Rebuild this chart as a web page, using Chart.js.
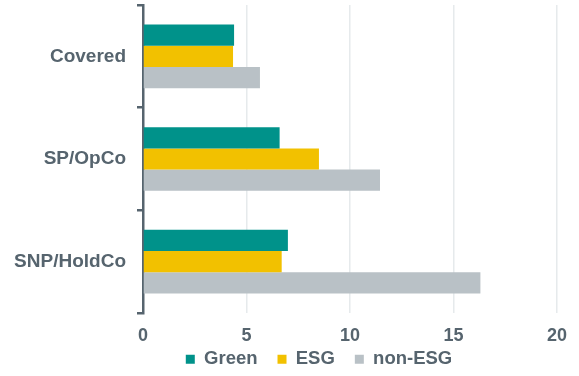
<!DOCTYPE html>
<html>
<head>
<meta charset="utf-8">
<script src="https://cdn.jsdelivr.net/npm/chart.js@4/dist/chart.umd.min.js"></script>
<style>
  html, body { margin: 0; padding: 0; background: #ffffff; }
  #wrap { width: 579px; height: 376px; position: relative; }
</style>
</head>
<body>
<div id="wrap"><canvas id="chart" width="579" height="376"></canvas></div>
<script>
// Issuer categories and values per bond type
const categories = ['Covered', 'SP/OpCo', 'SNP/HoldCo'];
const greenValues = [4.4, 6.6, 7.0];
const esgValues = [4.35, 8.5, 6.7];
const nonEsgValues = [5.65, 11.45, 16.3];
const xTicks = [0, 5, 10, 15, 20];

const TEXT = '#56646e';
const FONT = "'Liberation Sans', Arial, sans-serif";

// Compact legend band tucked under the tick labels, shifted to sit under the bars
const legendBand = {
  id: 'legendBand',
  beforeLayout(chart) {
    const lg = chart.legend;
    if (lg && !lg._bandFit) {
      const fit = lg.fit.bind(lg);
      lg.fit = function () { fit(); this.height = 29.4; };
      lg._bandFit = true;
    }
  },
  afterLayout(chart) {
    const lg = chart.legend;
    if (lg) {
      lg.left = 79;
      lg.top = 330;
      lg.bottom = 376;
    }
  }
};

new Chart(document.getElementById('chart'), {
  type: 'bar',
  data: {
    labels: categories,
    datasets: [
      { label: 'Green', data: greenValues, backgroundColor: '#00928a' },
      { label: 'ESG', data: esgValues, backgroundColor: '#f2c100' },
      { label: 'non-ESG', data: nonEsgValues, backgroundColor: '#b9c1c6' }
    ]
  },
  plugins: [legendBand],
  options: {
    indexAxis: 'y',
    responsive: false,
    animation: false,
    categoryPercentage: 0.62,
    barPercentage: 1.0,
    layout: { padding: { top: 5, right: 20, bottom: 0, left: 0 } },
    plugins: {
      tooltip: { enabled: false },
      legend: {
        position: 'bottom',
        labels: {
          color: TEXT,
          font: { family: FONT, size: 18.5, weight: 'bold' },
          boxWidth: 9,
          boxHeight: 9,
          padding: 20
        }
      }
    },
    scales: {
      x: {
        min: 0,
        max: 20,
        afterBuildTicks: (scale) => { scale.ticks = xTicks.map(v => ({ value: v })); },
        afterFit: (scale) => { scale.height = 33.6; },
        border: { display: false },
        grid: { color: '#e6eaec', lineWidth: 1.5, drawTicks: false },
        ticks: {
          color: TEXT,
          padding: 12,
          font: { family: FONT, size: 18, weight: 'bold' }
        }
      },
      y: {
        afterFit: (scale) => {
          scale.width = 143;
          scale.paddingTop = 0;
          scale.paddingBottom = 0;
        },
        border: { display: true, color: '#56646e', width: 2.5 },
        grid: {
          offset: true,
          drawOnChartArea: false,
          drawTicks: true,
          tickLength: 6,
          color: '#56646e',
          lineWidth: 2.5
        },
        ticks: {
          color: TEXT,
          padding: 11,
          font: { family: FONT, size: 19, weight: 'bold' }
        }
      }
    }
  }
});
</script>
</body>
</html>
